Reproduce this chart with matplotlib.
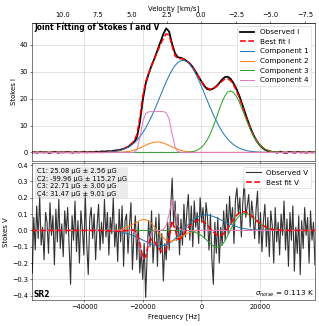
import numpy as np
import matplotlib
matplotlib.use('Agg')
import matplotlib.pyplot as plt

C_KMS = 299792.458
F0 = 1420.405751e6  # HI rest frequency [Hz]

# --- Stokes I, channels every 1 kHz from -58 kHz ---
i_start, i_step = -58000, 1000
obs_i = [0.0,
         0.1, -0.1, 0.2, 0.0, 0.1, -0.2, 0.1, 0.2, -0.1, 0.1,
         0.0, 0.2, 0.1, -0.1, 0.2, 0.0, 0.1, 0.3, 0.0, 0.2,
         0.1, 0.3, 0.2, 0.4, 0.3, 0.5, 0.4, 0.6, 0.8, 0.9,
         1.2, 1.6, 2.1, 2.9, 3.8, 5.6, 11.2, 19.5, 25.6, 29.3,
         32.4, 35.0, 38.0, 41.0, 44.0, 46.2, 45.0, 40.5, 37.0, 35.4,
         35.2, 34.8, 34.0, 33.2, 31.9, 30.2, 28.4, 26.5, 24.8, 23.6,
         23.3, 23.7, 24.5, 25.6, 27.0, 28.0, 28.2, 27.5, 25.8, 23.8,
         21.2, 18.0, 14.8, 11.6, 8.7, 6.2, 4.2, 2.7, 1.6, 0.9,
         0.4, 0.1, 0.2, -0.1, 0.3, 0.0, -0.2, 0.2, 0.1, -0.1,
         0.2, 0.0, 0.1, -0.1, 0.2, 0.0,
         0.1]

c1_i_start = -32000
c1_i = [0.15, 0.23, 0.34, 0.50, 0.72, 1.01, 1.41, 1.94, 2.61, 3.47,
        4.52, 5.81, 7.34, 9.12, 11.14, 13.39, 15.83, 18.42, 21.07, 23.72,
        26.26, 28.61, 30.65, 32.30, 33.49, 34.16, 34.28, 33.83, 32.84, 31.36,
        29.46, 27.22, 24.76, 22.13, 19.47, 16.85, 14.34, 12.00, 9.90, 8.02,
        6.39, 5.01, 3.86, 2.93, 2.19, 1.61, 1.16, 0.82, 0.58, 0.40,
        0.27, 0.18, 0.12, 0.07, 0.05]
c2_i_start = -28000
c2_i = [0.06, 0.12, 0.21, 0.35, 0.55, 0.84, 1.20, 1.65, 2.16, 2.68,
        3.17, 3.57, 3.82, 3.90, 3.79, 3.50, 3.08, 2.58, 2.05, 1.56,
        1.12, 0.77, 0.51, 0.31, 0.19, 0.10, 0.05]
c3_i_start = -4000
c3_i = [0.15, 0.31, 0.59, 1.07, 1.82, 2.96, 4.57, 6.70, 9.32, 12.32,
        15.46, 18.43, 20.86, 22.43, 22.90, 22.33, 20.89, 18.75, 16.14, 13.32,
        10.55, 8.01, 5.84, 4.09, 2.74, 1.76, 1.08, 0.64, 0.36, 0.20,
        0.10, 0.05]
c4_i_start = -23000
c4_i = [0.0, 1.0, 5.5, 11.5, 14.5, 15.1, 15.2, 15.2, 15.2, 15.2,
        15.2, 14.8, 12.5, 7.0, 2.2, 0.3, 0.0]

# --- Stokes V model components (same 1 kHz channels) ---
c1_v_start = -32000
c1_v = [-0.0023, -0.0033, -0.0047, -0.0066, -0.0091, -0.0122, -0.0163, -0.0212, -0.0270, -0.0339,
        -0.0415, -0.0500, -0.0589, -0.0678, -0.0763, -0.0839, -0.0899, -0.0938, -0.0950, -0.0930,
        -0.0876, -0.0788, -0.0663, -0.0510, -0.0333, -0.0140, 0.0060, 0.0257, 0.0442, 0.0606,
        0.0742, 0.0845, 0.0913, 0.0946, 0.0946, 0.0917, 0.0865, 0.0794, 0.0713, 0.0624,
        0.0535, 0.0449, 0.0368, 0.0297, 0.0235, 0.0182, 0.0138, 0.0102, 0.0076, 0.0055,
        0.0038, 0.0027, 0.0018, 0.0011, 0.0008]
c2_v_start = -28000
c2_v = [0.0049, 0.0090, 0.0144, 0.0218, 0.0308, 0.0418, 0.0521, 0.0613, 0.0666, 0.0658,
        0.0578, 0.0427, 0.0216, -0.0024, -0.0262, -0.0463, -0.0601, -0.0666, -0.0658, -0.0599,
        -0.0501, -0.0393, -0.0292, -0.0197, -0.0133, -0.0076, -0.0041]
c3_v_start = -4000
c3_v = [-0.0035, -0.0068, -0.0120, -0.0198, -0.0307, -0.0448, -0.0614, -0.0787, -0.0936, -0.1028,
        -0.1026, -0.0910, -0.0675, -0.0344, 0.0035, 0.0375, 0.0671, 0.0889, 0.1012, 0.1038,
        0.0984, 0.0869, 0.0723, 0.0569, 0.0423, 0.0299, 0.0200, 0.0128, 0.0078, 0.0046,
        0.0025, 0.0013]
c4_v_start = -24000
c4_v = [0.0, -0.005, -0.03, -0.09, -0.175, -0.16, -0.06, -0.012, 0.0, 0.0,
        0.0, 0.004, 0.03, 0.10, 0.19, 0.12, 0.03, 0.004, 0.0]

# --- observed Stokes V (finer channels) ---
obs_v = [-0.26, 0.08, -0.12, 0.15, -0.05, 0.21, -0.09, 0.02, -0.18, 0.11,
         0.05, -0.14, 0.17, -0.03, 0.09, -0.21, 0.13, -0.07, 0.19, -0.11,
         0.04, -0.16, 0.12, -0.02, 0.14, -0.10, -0.33, 0.09, -0.06, 0.18,
         -0.13, 0.06, -0.20, 0.12, 0.01, -0.15, 0.22, -0.09, -0.27, 0.07,
         0.14, -0.05, 0.10, -0.18, 0.03, 0.16, -0.12, 0.05, -0.08, 0.19,
         -0.04, 0.11, -0.15, 0.08, -0.02, 0.20, -0.10, 0.04, -0.19, 0.13,
         -0.07, 0.15, -0.22, 0.06, 0.10, -0.14, 0.03, 0.17, -0.24, -0.02,
         0.09, -0.18, 0.05, -0.26, -0.12, -0.30, -0.08, -0.41, -0.15, 0.06,
         -0.10, 0.12, -0.20, -0.05, 0.08, -0.22, 0.10, -0.14, -0.02, -0.31,
         -0.08, -0.18, 0.05, -0.12, 0.14, 0.32, 0.04, 0.18, -0.06, 0.10,
         -0.15, 0.07, -0.09, 0.16, -0.04, 0.12, 0.22, -0.06, 0.15, -0.10,
         0.18, 0.02, 0.11, -0.08, 0.20, 0.05, 0.14, -0.05, 0.17, 0.08,
         -0.12, 0.10, -0.18, -0.33, 0.05, -0.14, 0.08, -0.20, 0.02, -0.09,
         0.12, -0.06, 0.16, -0.02, 0.21, 0.04, 0.14, -0.08, 0.19, 0.26,
         0.10, 0.20, -0.04, 0.17, 0.30, 0.08, 0.15, 0.22, 0.02, 0.18,
         0.09, -0.05, 0.13, 0.24, -0.08, 0.11, -0.13, 0.06, 0.16, -0.10,
         0.08, -0.16, 0.12, 0.03, -0.20, 0.14, -0.07, 0.05, -0.15, 0.10,
         -0.03, 0.18, -0.12, 0.07, -0.22, 0.11, -0.06, 0.15, -0.25, 0.02,
         -0.14, 0.09, -0.27, 0.06, -0.11, 0.14, -0.03, 0.08, -0.20, 0.12,
         -0.06, 0.05, -0.21]
v_first, v_last = -57800, 38900

b_fields = ['C1: 25.08 \u03bcG \u00b1 2.56 \u03bcG',
            'C2: -99.96 \u03bcG \u00b1 115.27 \u03bcG',
            'C3: 22.71 \u03bcG \u00b1 3.00 \u03bcG',
            'C4: 31.47 \u03bcG \u00b1 9.01 \u03bcG']
sigma_noise = 0.113
vel_ticks = [10.0, 7.5, 5.0, 2.5, 0.0, -2.5, -5.0, -7.5]

freq_i = i_start + i_step * np.arange(len(obs_i))
freq_v = np.linspace(v_first, v_last, len(obs_v))


def on_grid(start, vals):
    out = np.zeros(len(freq_i))
    k = (start - i_start) // i_step
    out[k:k + len(vals)] = vals
    return out


comps_i = [on_grid(c1_i_start, c1_i), on_grid(c2_i_start, c2_i),
           on_grid(c3_i_start, c3_i), on_grid(c4_i_start, c4_i)]
comps_v = [on_grid(c1_v_start, c1_v), on_grid(c2_v_start, c2_v),
           on_grid(c3_v_start, c3_v), on_grid(c4_v_start, c4_v)]
fit_i = np.sum(comps_i, axis=0)
fit_v = np.sum(comps_v, axis=0)
colors = ['C0', 'C1', 'C2', 'C6']

fig = plt.figure(figsize=(319 / 45, 326 / 45), dpi=45)
ax1 = fig.add_axes([0.1013, 0.5061, 0.886, 0.4243])
ax2 = fig.add_axes([0.1013, 0.0798, 0.886, 0.4187], sharex=ax1)

# Stokes I
ax1.plot(freq_i, obs_i, 'k-', lw=2.8, label='Observed I')
ax1.plot(freq_i, fit_i, 'r--', lw=2.5, label='Best fit I')
for n, (c, col) in enumerate(zip(comps_i, colors)):
    ax1.plot(freq_i, c, color=col, lw=1.6, label=f'Component {n + 1}')
ax1.set_ylim(-3.2, 48.3)
ax1.set_ylabel('Stokes I', fontsize=11)
ax1.grid(True, alpha=0.7)
ax1.legend(loc='upper right', fontsize=11.5)
ax1.tick_params(labelbottom=False, labelsize=10.5)
ax1.text(0.006, 0.995, 'Joint Fitting of Stokes I and V', transform=ax1.transAxes,
         ha='left', va='top', fontweight='bold', fontsize=12)

sec = ax1.secondary_xaxis('top', functions=(lambda f: -f / F0 * C_KMS,
                                            lambda v: -v * F0 / C_KMS))
sec.set_xticks(vel_ticks)
sec.tick_params(labelsize=10.5)
sec.set_xlabel('Velocity [km/s]', fontsize=11)

# Stokes V
ax2.plot(freq_v, obs_v, color='k', alpha=0.8, lw=1.8, label='Observed V')
for c, col in zip(comps_v, colors):
    ax2.plot(freq_i, c, color=col, lw=1.6)
ax2.plot(freq_i, fit_v, 'r--', lw=2.5, label='Best fit V')
ax2.set_xlim(v_first, v_last)
ax2.set_ylim(-0.426, 0.41)
ax2.tick_params(labelsize=10.5)
ax2.set_ylabel('Stokes V', fontsize=11)
ax2.set_xlabel('Frequency [Hz]', fontsize=11)
ax2.grid(True, alpha=0.7)
ax2.legend(loc='upper right', fontsize=11.5)
ax2.text(0.015, 0.965, '\n'.join(b_fields), transform=ax2.transAxes, ha='left', va='top',
         linespacing=1.3, fontsize=10.5,
         bbox=dict(facecolor='lightgray', alpha=0.45, edgecolor='none', pad=2))
ax2.text(0.003, 0.004, 'SR2', transform=ax2.transAxes, ha='left', va='bottom',
         fontweight='bold', fontsize=12)
ax2.text(0.995, 0.004, r'$\sigma_{noise}$ = %.3f K' % sigma_noise, transform=ax2.transAxes,
         ha='right', va='bottom', fontsize=11.5,
         bbox=dict(facecolor='white', alpha=0.8, edgecolor='none', pad=1))

fig.savefig('out.png', dpi=45)
